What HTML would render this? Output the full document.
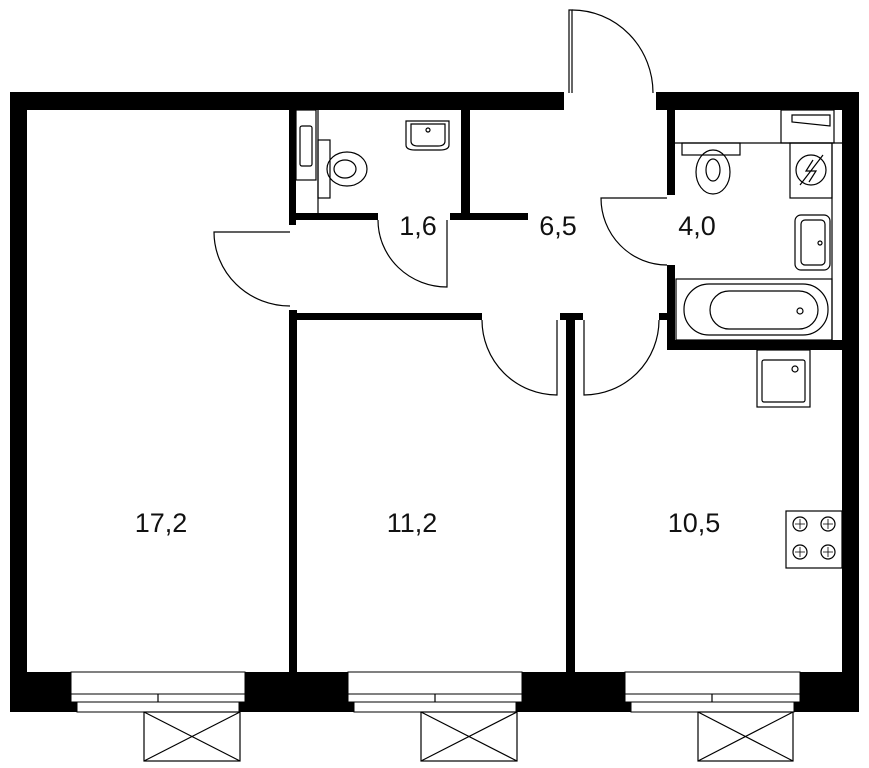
<!DOCTYPE html>
<html><head><meta charset="utf-8"><style>
html,body{margin:0;padding:0;background:#fff;}
svg{display:block}
text{font-family:"Liberation Sans",sans-serif;font-size:27px;fill:#111;text-anchor:middle}
</style></head><body>
<svg width="869" height="768" viewBox="0 0 869 768" xmlns="http://www.w3.org/2000/svg">
<g fill="#000">
<rect x="10" y="92" width="554" height="18"/>
<rect x="656" y="92" width="203" height="18"/>
<rect x="10" y="92" width="17" height="620"/>
<rect x="842" y="92" width="17" height="620"/>
<rect x="10" y="672" width="849" height="40"/>
<rect x="289" y="110" width="7" height="115"/>
<rect x="461" y="110" width="9" height="110"/>
<rect x="289" y="213" width="89" height="7"/>
<rect x="450" y="213" width="78" height="7"/>
<rect x="289" y="313" width="193" height="7"/>
<rect x="289" y="310" width="8" height="362"/>
<rect x="560" y="313" width="23" height="7"/>
<rect x="566" y="313" width="9" height="359"/>
<rect x="667" y="110" width="8" height="85"/>
<rect x="667" y="265" width="8" height="85"/>
<rect x="659" y="313" width="16" height="7"/>
<rect x="667" y="340" width="175" height="10"/>
</g>
<g fill="#fff" stroke="#000" stroke-width="1">
<rect x="71" y="672" width="174" height="22"/>
<rect x="71" y="694" width="174" height="8"/>
<rect x="77" y="702" width="162" height="10"/>
<rect x="348" y="672" width="174" height="22"/>
<rect x="348" y="694" width="174" height="8"/>
<rect x="354" y="702" width="162" height="10"/>
<rect x="625" y="672" width="175" height="22"/>
<rect x="625" y="694" width="175" height="8"/>
<rect x="631" y="702" width="163" height="10"/>
</g>
<g fill="none" stroke="#000" stroke-width="1.2">
<line x1="158" y1="694" x2="158" y2="702"/><line x1="435" y1="694" x2="435" y2="702"/><line x1="712" y1="694" x2="712" y2="702"/>
<rect x="144" y="712" width="96" height="49"/><path d="M144 712L240 761M240 712L144 761"/>
<rect x="421" y="712" width="96" height="49"/><path d="M421 712L517 761M517 712L421 761"/>
<rect x="698" y="712" width="95" height="49"/><path d="M698 712L793 761M793 712L698 761"/>
<path d="M569 93V10H572V93"/>
<path d="M572 10A81 83 0 0 1 653 93"/>
<path d="M290 232H214A76 74 0 0 0 290 306"/>
<path d="M378 220A69 67 0 0 0 447 287V220"/>
<path d="M482 320A75 75 0 0 0 557 395V320"/>
<path d="M584 320V395A75 75 0 0 0 659 320"/>
<path d="M667 198H601A66 67 0 0 0 667 265"/>
<rect x="296" y="110" width="20" height="70"/>
<rect x="300" y="126" width="12" height="40" rx="2"/>
<line x1="318" y1="110" x2="318" y2="213"/>
<rect x="318" y="140" width="12" height="58"/>
<ellipse cx="347" cy="169" rx="20" ry="17"/><ellipse cx="345" cy="169" rx="11" ry="9"/>
<path d="M406 121H449V145Q449 150 440 150H415Q406 150 406 145Z"/>
<path d="M411 124H445V141Q445 146 438 146H418Q411 146 411 141Z"/>
<circle cx="428" cy="130" r="2"/>
<rect x="781" y="110" width="53" height="33"/>
<path d="M792 115H830V126L792 122Z"/>
<line x1="675" y1="143" x2="842" y2="143"/>
<rect x="682" y="143" width="58" height="12"/>
<ellipse cx="713" cy="172" rx="17" ry="22"/><ellipse cx="713" cy="170" rx="7" ry="11"/>
<rect x="790" y="143" width="42" height="55"/>
<circle cx="811" cy="170" r="15"/><path d="M800 185L823 155M813 160L806 171H816L809 182"/>
<line x1="832" y1="143" x2="832" y2="340"/>
<rect x="795" y="215" width="35" height="55" rx="6"/><rect x="801" y="220" width="24" height="45" rx="4"/>
<circle cx="820" cy="243" r="2"/>
<rect x="676" y="279" width="156" height="61"/>
<rect x="684" y="284" width="144" height="51" rx="25"/>
<rect x="710" y="291" width="108" height="38" rx="19"/>
<circle cx="800" cy="311" r="3"/>
<rect x="757" y="350" width="53" height="57"/>
<rect x="762" y="360" width="43" height="42" rx="2"/>
<circle cx="795" cy="369" r="3"/>
<rect x="786" y="511" width="56" height="57"/>
<circle cx="800" cy="524" r="7"/><circle cx="828" cy="524" r="7"/>
<circle cx="800" cy="552" r="7"/><circle cx="828" cy="552" r="7"/>
<path d="M800 519V529M795 524H805M828 519V529M823 524H833M800 547V557M795 552H805M828 547V557M823 552H833" stroke-width="0.8"/>
</g>
<text x="418" y="235">1,6</text>
<text x="558" y="235">6,5</text>
<text x="697" y="235">4,0</text>
<text x="161" y="532">17,2</text>
<text x="412" y="532">11,2</text>
<text x="694" y="532">10,5</text>
</svg>
</body></html>
